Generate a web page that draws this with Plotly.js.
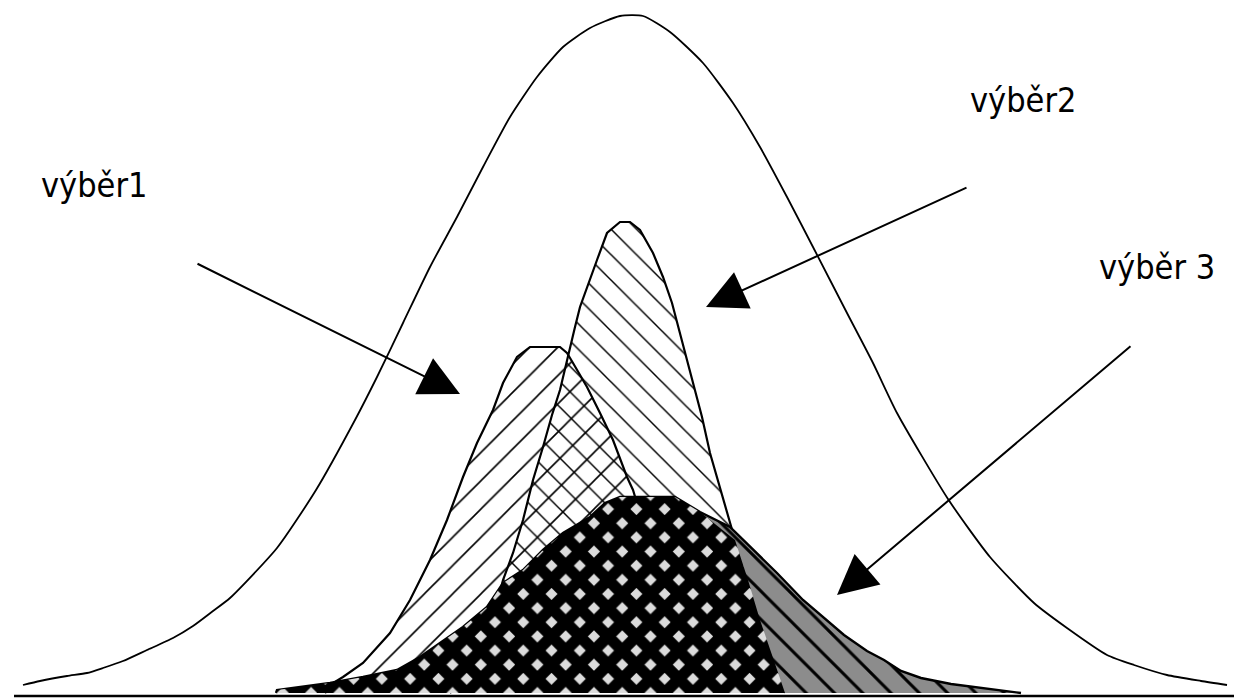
<!DOCTYPE html>
<html>
<head>
<meta charset="utf-8">
<script src="https://cdn.plot.ly/plotly-3.0.1.min.js"></script>
<style>html,body{margin:0;padding:0;background:#fff;}#chart{width:1234px;height:698px;}</style>
</head>
<body>
<div id="chart"></div>
<script>
// Population curve (x = horizontal position, y = height above baseline)
var bellX = [23,40,67,87,103,123,147,173,193,213,230,277,316,355,377,403,430,457,483,510,537,563,590,620,643,670,703,733,760,787,813,847,873,897,948,990,1034,1067,1107,1134,1167,1201,1227];
var bellY = [11,15,20,23,28,35,46,58,70,85,98,148,206,276,319,373,429,479,529,579,619,649,668,680,680,664,633,593,549,499,449,383,333,283,197,139,93,68,41,31,21,15,11];

// výběr1
var s1X = [325,333,343,363,390,410,430,447,463,477,493,503,517,530,560,567,573,587,600,613,627,633,645,660,680,700,730,760];
var s1Y = [3,13,19,33,63,96,136,176,219,253,286,313,339,349,349,343,333,309,283,256,219,206,166,126,86,56,26,6];

// výběr2
var s2X = [450,470,485,495,503,513,523,533,543,552,560,568,570,575,580,587,597,607,620,630,640,653,663,672,680,687,695,702,710,718,725,735,748,760,772,785];
var s2Y = [3,26,56,86,116,143,176,216,249,281,306,341,349,369,389,409,436,463,474,474,466,443,419,393,363,336,306,279,243,216,191,156,116,76,41,3];

// výběr 3
var s3X = [276,277,330,363,397,420,440,463,487,503,523,543,563,590,605,620,675,700,730,757,777,803,830,844,867,884,901,921,951,984,1021];
var s3Y = [3,6,13,19,26,39,53,69,89,113,126,146,163,179,193,199,199,184,169,143,123,96,73,61,45,36,25,18,12,8,3];

// baseline
var baseX = [14,1234];
var baseY = [0,0];

// labels
var labelText = ['výběr1','výběr2','výběr 3'];
var labelX = [94,1023,1157];
var labelY = [511,596,429];

// arrows: tail -> head
var arrowTailX = [196,968,1132];
var arrowTailY = [433,509,351];
var arrowHeadX = [460,706,837];
var arrowHeadY = [302,389,101];

// overlap of výběr 3 with the hatched samples (left of výběr2's right tail)
var darkX = [], darkY = [];
for (var i = 0; i < s3X.length; i++) { if (s3X[i] <= 705) { darkX.push(s3X[i]); darkY.push(s3Y[i]); } }
for (var j = 0; j < s2X.length; j++) { if (s2X[j] >= 730) { darkX.push(s2X[j]); darkY.push(s2Y[j]); } }

var clear = 'rgba(0,0,0,0)';
var traces = [
  {x: bellX, y: bellY, mode: 'lines', line: {color: '#000', width: 1.8, shape: 'spline', smoothing: 0.6}, hoverinfo: 'skip'},
  {x: s1X, y: s1Y, mode: 'lines', fill: 'toself', fillcolor: clear,
   fillpattern: {shape: '/', fgcolor: '#000', bgcolor: clear, size: 20, solidity: 0.08},
   line: {color: '#000', width: 2.2}, hoverinfo: 'skip'},
  {x: s2X, y: s2Y, mode: 'lines', fill: 'toself', fillcolor: clear,
   fillpattern: {shape: '\\', fgcolor: '#000', bgcolor: clear, size: 18, solidity: 0.08},
   line: {color: '#000', width: 2.2}, hoverinfo: 'skip'},
  {x: s3X, y: s3Y, mode: 'lines', fill: 'toself', fillcolor: '#8a8a8a',
   fillpattern: {shape: '\\', fgcolor: '#000', bgcolor: '#8c8c8c', size: 20, solidity: 0.15},
   line: {color: '#000', width: 2.4}, hoverinfo: 'skip'},
  {x: darkX, y: darkY, mode: 'lines', fill: 'toself', fillcolor: '#111',
   fillpattern: {shape: 'x', fgcolor: '#000', bgcolor: '#dcdcdc', size: 20, solidity: 0.82},
   line: {color: clear, width: 0}, hoverinfo: 'skip'},
  {x: baseX, y: baseY, mode: 'lines', line: {color: '#000', width: 2.5}, hoverinfo: 'skip'}
];

var annotations = [];
for (var k = 0; k < labelText.length; k++) {
  annotations.push({x: labelX[k], y: labelY[k], xref: 'x', yref: 'y', text: labelText[k], showarrow: false,
    xanchor: 'center', yanchor: 'middle',
    font: {family: '"DejaVu Sans Condensed", "Liberation Sans Narrow", sans-serif', size: 34, color: '#000'}});
}
for (var m = 0; m < arrowTailX.length; m++) {
  annotations.push({x: arrowHeadX[m], y: arrowHeadY[m], ax: arrowTailX[m], ay: arrowTailY[m],
    xref: 'x', yref: 'y', axref: 'x', ayref: 'y', text: '', showarrow: true,
    arrowhead: 2, arrowsize: 4, arrowwidth: 2, arrowcolor: '#000', standoff: 0});
}

var layout = {
  width: 1234, height: 698,
  margin: {l: 0, r: 0, t: 0, b: 0, pad: 0},
  paper_bgcolor: '#fff', plot_bgcolor: '#fff',
  showlegend: false,
  xaxis: {range: [0, 1234], visible: false, fixedrange: true},
  yaxis: {range: [-2, 696], visible: false, fixedrange: true},
  annotations: annotations
};

Plotly.newPlot('chart', traces, layout, {staticPlot: true, displayModeBar: false});
</script>
</body>
</html>
